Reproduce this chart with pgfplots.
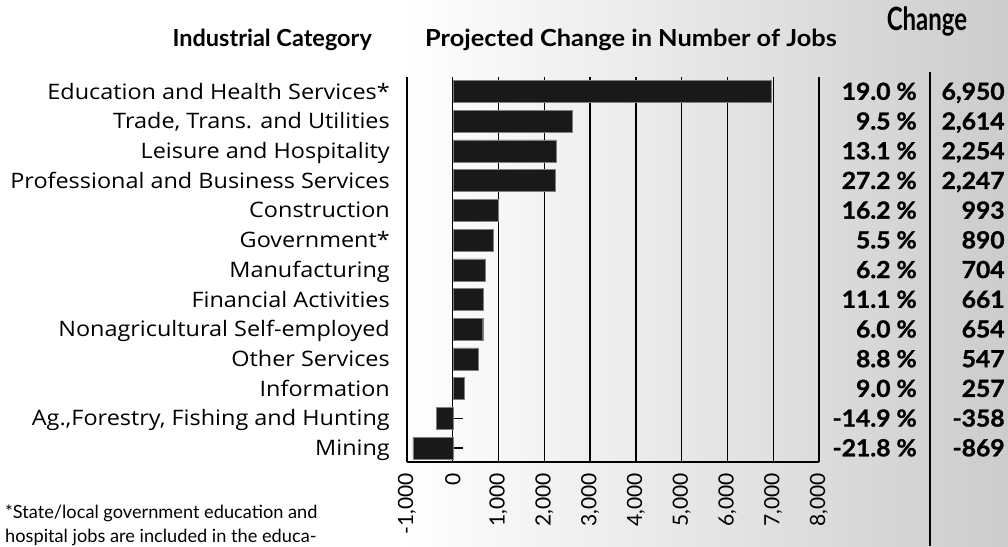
\documentclass[border=0pt]{standalone}
\usepackage{fontspec}
\setmainfont{Lato}
\newfontfamily\labelfont[FakeStretch=1.1]{Open Sans}
\newfontfamily\headfont{Lato}
\newfontfamily\wideheadfont[FakeStretch=1.08]{Lato}
\newfontfamily\bigheadfont[FakeStretch=0.75]{Lato}
\newfontfamily\numfont[FakeStretch=1.05,FakeBold=1.2]{Lato}
\usepackage{pgfplots}
\usepackage{pgfplotstable}
\pgfplotsset{compat=1.18}
\pgfkeys{/pgf/number format/assume math mode=true}

\pgfplotstableread{
idx jobs pct
0 6950 19.0
1 2614 9.5
2 2254 13.1
3 2247 27.2
4 993 16.2
5 890 5.5
6 704 6.2
7 661 11.1
8 654 6.0
9 547 8.8
10 257 9.0
11 -358 -14.9
12 -869 -21.8
}\jobsdata

\begin{document}
\begin{tikzpicture}[x=1pt,y=1pt]
\useasboundingbox (0pt,0pt) rectangle (1008pt,546pt);
\fill[white] (0pt,0pt) rectangle (1008pt,546pt);
\shade[left color=white, right color=black!20] (400pt,0pt) rectangle (1008pt,546pt);
\begin{axis}[
  at={(407pt,84pt)}, anchor=south west,
  scale only axis, width=412pt, height=385pt,
  xmin=-1000, xmax=8000,
  ymin=-0.49, ymax=12.47, y dir=reverse,
  clip=false,
  axis x line*=bottom,
  axis line style={line width=1.6pt},
  xtick={-1000,0,1000,2000,3000,4000,5000,6000,7000,8000},
  xmajorgrids,
  grid style={black, line width=1.4pt},
  xtick style={draw=none},
  ytick={0,...,12},
  ytick style={draw=none},
  yticklabels={Education and Health Services*,{Trade, Trans. and Utilities},Leisure and Hospitality,Professional and Business Services,Construction,Government*,Manufacturing,Financial Activities,Nonagricultural Self-employed,Other Services,Information,{Ag.,Forestry, Fishing and Hunting},Mining},
  yticklabel style={font=\labelfont\fontsize{21.3}{21.3}\selectfont, inner sep=0pt, xshift=-17pt, anchor=east, text height=15pt, text depth=0pt},
  xticklabel style={font=\fontsize{21}{21}\selectfont, inner sep=0pt, rotate=90, anchor=east},
  xticklabel shift=11pt,
  /pgf/number format/.cd, 1000 sep={,}, assume math mode=true,
]
\pgfplotsinvokeforeach{0,...,12}{\draw[line width=1.2pt] (axis cs:0,#1) -- (axis cs:220,#1);}
\addplot[xbar, bar width=22pt, fill=black!90, draw=black!50, line width=0.4pt]
  table[x=jobs, y=idx] {\jobsdata};
\addplot[draw=none, mark=none, point meta=explicit,
  nodes near coords={\pgfmathprintnumber[fixed,fixed zerofill,precision=1,assume math mode=true]{\pgfplotspointmeta}~\%},
  every node near coord/.style={anchor=east, inner sep=0pt, text height=16.5pt, text depth=0pt, font=\numfont\bfseries\fontsize{23.5}{23.5}\selectfont}]
  table[x expr=10140, y=idx, meta=pct] {\jobsdata};
\addplot[draw=none, mark=none, point meta=explicit,
  nodes near coords={\pgfmathprintnumber[fixed,precision=0,1000 sep={,},assume math mode=true]{\pgfplotspointmeta}},
  every node near coord/.style={anchor=east, inner sep=0pt, text height=16.5pt, text depth=0pt, font=\numfont\bfseries\fontsize{23.5}{23.5}\selectfont}]
  table[x expr=12060, y=idx, meta=jobs] {\jobsdata};
\end{axis}
\draw[line width=1.6pt] (930pt,474pt) -- (930pt,0pt);
\node[anchor=east, inner sep=0pt, font=\headfont\bfseries\fontsize{23.5}{23.5}\selectfont] at (372pt,506pt) {Industrial Category};
\node[anchor=west, inner sep=0pt, font=\wideheadfont\bfseries\fontsize{23.5}{23.5}\selectfont] at (425pt,506pt) {Projected Change in Number of Jobs};
\node[anchor=center, inner sep=0pt, font=\bigheadfont\bfseries\fontsize{32}{32}\selectfont] at (927pt,524pt) {Change};
\node[anchor=west, inner sep=0pt, font=\fontsize{18.2}{18.2}\selectfont] at (5pt,33pt) {*State/local government education and};
\node[anchor=west, inner sep=0pt, font=\fontsize{18.2}{18.2}\selectfont] at (5pt,9pt) {hospital jobs are included in the educa-};
\end{tikzpicture}
\end{document}
